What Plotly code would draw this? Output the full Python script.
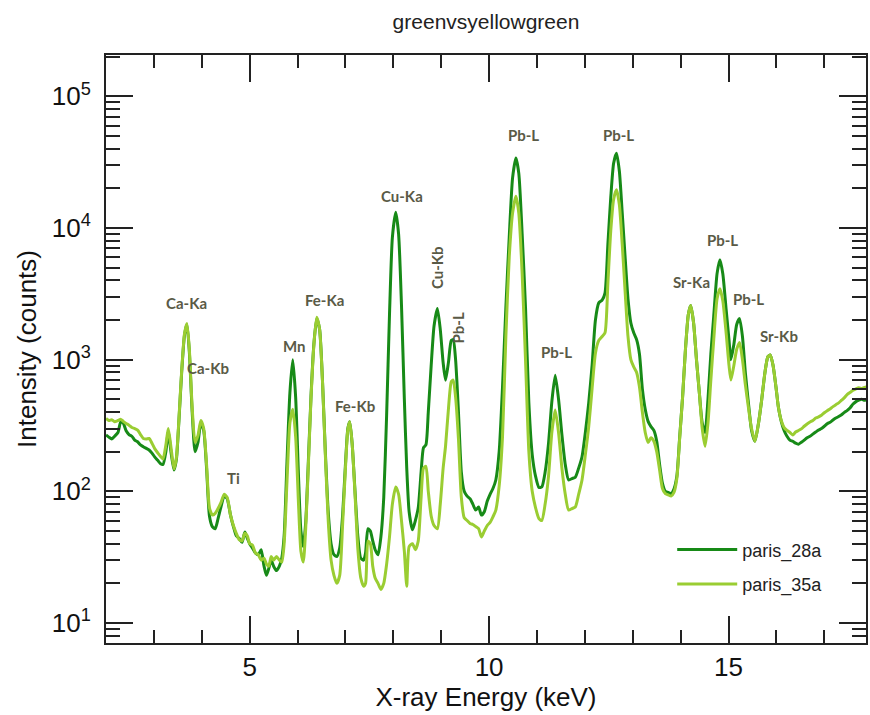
import math
import plotly.graph_objects as go

# ---------------- data ----------------
energy_keV = [2.00, 2.06, 2.12, 2.18, 2.25, 2.31, 2.36, 2.42, 2.48, 2.54, 2.60, 2.66, 2.72, 2.78, 2.84, 2.90, 2.96, 3.02, 3.08, 3.14, 3.19, 3.25, 3.30, 3.36, 3.42, 3.47, 3.52, 3.58, 3.64, 3.69, 3.74, 3.80, 3.86, 3.92, 3.98, 4.04, 4.10, 4.16, 4.22, 4.28, 4.34, 4.40, 4.47, 4.53, 4.60, 4.66, 4.72, 4.78, 4.84, 4.90, 4.95, 5.00, 5.06, 5.12, 5.18, 5.24, 5.30, 5.35, 5.40, 5.45, 5.50, 5.56, 5.62, 5.67, 5.72, 5.78, 5.84, 5.90, 5.96, 6.02, 6.07, 6.12, 6.17, 6.22, 6.28, 6.34, 6.40, 6.46, 6.52, 6.58, 6.64, 6.70, 6.76, 6.82, 6.88, 6.94, 7.00, 7.05, 7.09, 7.14, 7.20, 7.26, 7.32, 7.38, 7.42, 7.47, 7.52, 7.57, 7.62, 7.68, 7.74, 7.80, 7.86, 7.92, 7.98, 8.05, 8.11, 8.17, 8.23, 8.28, 8.33, 8.40, 8.46, 8.52, 8.58, 8.63, 8.68, 8.73, 8.79, 8.85, 8.92, 8.98, 9.04, 9.09, 9.15, 9.21, 9.25, 9.30, 9.36, 9.42, 9.48, 9.54, 9.60, 9.66, 9.72, 9.78, 9.84, 9.90, 9.96, 10.02, 10.08, 10.14, 10.21, 10.28, 10.35, 10.42, 10.49, 10.56, 10.62, 10.69, 10.76, 10.83, 10.90, 10.97, 11.04, 11.10, 11.17, 11.24, 11.31, 11.38, 11.45, 11.52, 11.59, 11.66, 11.73, 11.80, 11.87, 11.94, 12.01, 12.08, 12.15, 12.22, 12.29, 12.36, 12.42, 12.48, 12.54, 12.60, 12.66, 12.72, 12.78, 12.84, 12.90, 12.96, 13.02, 13.08, 13.14, 13.20, 13.26, 13.32, 13.38, 13.44, 13.50, 13.56, 13.62, 13.68, 13.74, 13.80, 13.86, 13.92, 13.98, 14.04, 14.10, 14.16, 14.21, 14.27, 14.33, 14.39, 14.45, 14.51, 14.57, 14.63, 14.69, 14.76, 14.82, 14.88, 14.95, 15.01, 15.05, 15.11, 15.17, 15.23, 15.29, 15.35, 15.42, 15.48, 15.55, 15.62, 15.69, 15.76, 15.82, 15.87, 15.93, 15.99, 16.04, 16.10, 16.16, 16.22, 16.28, 16.34, 16.40, 16.46, 16.52, 16.58, 16.64, 16.70, 16.76, 16.82, 16.88, 16.94, 17.00, 17.06, 17.12, 17.18, 17.24, 17.30, 17.36, 17.42, 17.48, 17.54, 17.60, 17.66, 17.72, 17.78, 17.84, 17.90]

counts_paris_28a = [268, 258, 250, 262, 280, 340, 330, 288, 270, 262, 245, 238, 225, 218, 212, 206, 195, 182, 172, 162, 160, 200, 282, 195, 145, 175, 330, 800, 1550, 1850, 1150, 400, 200, 235, 330, 290, 150, 65, 54, 52, 62, 76, 93, 88, 66, 54, 46, 44, 41, 49, 44, 40, 37, 34, 33, 36, 27, 23, 26, 30, 27, 25, 27, 31, 46, 170, 560, 1000, 520, 130, 50, 38, 58, 150, 520, 1300, 2050, 1700, 700, 200, 70, 40, 33, 32, 37, 65, 160, 300, 338, 230, 100, 45, 31, 30, 34, 52, 50, 42, 36, 33, 45, 90, 380, 2200, 8500, 13200, 9000, 2600, 500, 150, 70, 51, 60, 75, 140, 215, 225, 400, 900, 1800, 2450, 1700, 950, 700, 950, 1400, 1420, 1000, 400, 140, 100, 92, 88, 80, 72, 76, 66, 70, 84, 95, 105, 122, 200, 620, 2500, 8500, 24000, 34000, 26000, 9000, 2500, 470, 190, 130, 107, 108, 140, 230, 480, 760, 500, 270, 160, 122, 125, 128, 150, 183, 280, 470, 900, 2000, 2700, 2830, 3200, 7500, 17000, 31000, 37000, 27000, 13000, 6000, 2900, 1900, 1600, 1420, 1100, 600, 420, 340, 310, 290, 240, 160, 115, 100, 98, 96, 104, 130, 260, 520, 1200, 2200, 2580, 1900, 1000, 560, 330, 280, 500, 1100, 2130, 4500, 5750, 4500, 2400, 1400, 1000, 1300, 1850, 2050, 1500, 800, 450, 290, 240, 320, 490, 800, 1050, 1085, 900, 620, 437, 340, 290, 262, 245, 240, 232, 228, 236, 245, 255, 262, 272, 282, 292, 300, 312, 326, 335, 348, 360, 370, 382, 398, 412, 432, 460, 480, 492, 500, 492, 500]

counts_paris_35a = [358, 345, 350, 338, 345, 352, 340, 328, 318, 305, 300, 292, 270, 252, 250, 252, 232, 210, 196, 184, 176, 225, 300, 212, 148, 180, 340, 820, 1580, 1880, 1200, 430, 235, 265, 345, 300, 160, 75, 66, 68, 74, 82, 95, 90, 66, 55, 48, 43, 42, 48, 46, 40, 39, 34, 33, 30, 31, 28, 27, 32, 30, 32, 30, 29, 40, 120, 330, 420, 260, 80, 35, 29, 52, 140, 500, 1280, 2100, 1700, 690, 190, 60, 30, 23, 20, 23, 55, 150, 295, 338, 230, 95, 36, 22, 19, 20, 42, 40, 27, 22, 20, 18, 20, 28, 45, 80, 108, 95, 60, 35, 19, 38, 40, 36, 42, 90, 150, 155, 100, 65, 55, 52, 80, 150, 220, 420, 680, 700, 520, 250, 90, 63, 60, 57, 56, 54, 52, 45, 50, 55, 58, 64, 72, 110, 260, 1500, 6000, 13000, 17400, 13000, 4500, 1000, 200, 100, 75, 62, 60, 80, 130, 280, 415, 280, 150, 95, 72, 74, 76, 95, 122, 190, 310, 600, 1120, 1400, 1500, 1600, 3800, 9500, 16500, 19500, 15000, 7500, 3300, 1500, 1000, 880, 800, 620, 400, 280, 235, 255, 240, 200, 145, 105, 96, 94, 92, 98, 125, 255, 520, 1200, 2200, 2580, 1900, 1000, 560, 300, 220, 330, 700, 1410, 2900, 3460, 2800, 1590, 900, 700, 900, 1200, 1350, 1000, 650, 420, 300, 240, 320, 490, 800, 1050, 1085, 900, 620, 437, 345, 305, 290, 280, 268, 282, 290, 298, 312, 325, 336, 345, 360, 368, 378, 395, 410, 422, 440, 455, 470, 492, 515, 545, 565, 585, 600, 612, 605, 615, 625]

series_names = ["paris_28a", "paris_35a"]

peak_labels = ["Ca-Ka", "Ca-Kb", "Ti", "Mn", "Fe-Ka", "Fe-Kb", "Cu-Ka", "Cu-Kb", "Pb-L",
               "Pb-L", "Pb-L", "Pb-L", "Sr-Ka", "Pb-L", "Pb-L", "Sr-Kb"]
peak_label_energy = [3.69, 4.12, 4.67, 5.94, 6.56, 7.19, 8.19, 8.90, 9.36,
                     10.71, 11.40, 12.71, 14.23, 14.88, 15.42, 16.06]
peak_label_counts = [2690, 870, 126, 1260, 2820, 447, 17400, 5000, 1740,
                     51000, 1150, 51000, 3900, 8100, 2880, 1510]
peak_label_angle = [0, 0, 0, 0, 0, 0, 0, -90, -90, 0, 0, 0, 0, 0, 0, 0]

y_major = [10, 100, 1000, 10000, 100000]
y_major_text = ["10<sup>1</sup>", "10<sup>2</sup>", "10<sup>3</sup>", "10<sup>4</sup>", "10<sup>5</sup>"]
x_major = [5, 10, 15]

# ---------------- figure ----------------
colors = ["#178a17", "#9acd32"]
fig = go.Figure()
for i, (name, vals) in enumerate(zip(series_names, [counts_paris_28a, counts_paris_35a])):
    fig.add_trace(go.Scatter(
        x=energy_keV, y=vals, name=name, mode="lines",
        legendgroup=name,
        line=dict(color=colors[i], width=3, shape="spline", smoothing=0.6),
    ))

# annotations on a log axis take log10 positions
for t, e, c, a in zip(peak_labels, peak_label_energy, peak_label_counts, peak_label_angle):
    fig.add_annotation(x=e, y=math.log10(c), yref="y", xref="x", text="<b>%s</b>" % t,
                       showarrow=False, textangle=a,
                       font=dict(family="Lato", size=15, color="#5a5a46"))

y_minor = [m * 10 ** d for d in range(0, 6) for m in range(2, 10)]

fig.update_layout(
    width=870, height=715,
    margin=dict(l=106, r=2, t=55, b=72),
    paper_bgcolor="white", plot_bgcolor="white",
    font=dict(family="Liberation Sans, Arial, sans-serif", color="#111"),
    title=dict(text="greenvsyellowgreen", x=0.5, xref="paper", y=1 - 22 / 715,
               yanchor="middle", font=dict(size=21, color="#222")),
    showlegend=True,
    legend=dict(x=0.745, y=0.19, xanchor="left", yanchor="top",
                bgcolor="rgba(0,0,0,0)", font=dict(size=18, color="#222"),
                tracegroupgap=8, itemwidth=60),
)
fig.update_xaxes(
    range=[2, 17.87], tickvals=x_major, ticks="inside", ticklen=27, tickwidth=1.5,
    tickcolor="#222", showline=True, linewidth=2, linecolor="#222", mirror="allticks",
    showgrid=False, zeroline=False, tickfont=dict(size=26),
    minor=dict(dtick=1, tick0=0, ticks="inside", ticklen=13, tickwidth=1.5, tickcolor="#222", showgrid=False),
    title=dict(text="X-ray Energy (keV)", font=dict(size=26), standoff=0),
)
fig.update_yaxes(
    type="log", range=[0.848, 5.314], tickvals=y_major, ticktext=y_major_text,
    ticks="inside", ticklen=27, tickwidth=1.5, tickcolor="#222",
    showline=True, linewidth=2, linecolor="#222", mirror="allticks",
    showgrid=False, zeroline=False, tickfont=dict(size=26), ticklabelstandoff=8,
    minor=dict(tickvals=y_minor, ticks="inside", ticklen=14, tickwidth=1.5, tickcolor="#222", showgrid=False),
    title=dict(text="Intensity (counts)", font=dict(size=26), standoff=8),
)

fig.write_html("out.html")
